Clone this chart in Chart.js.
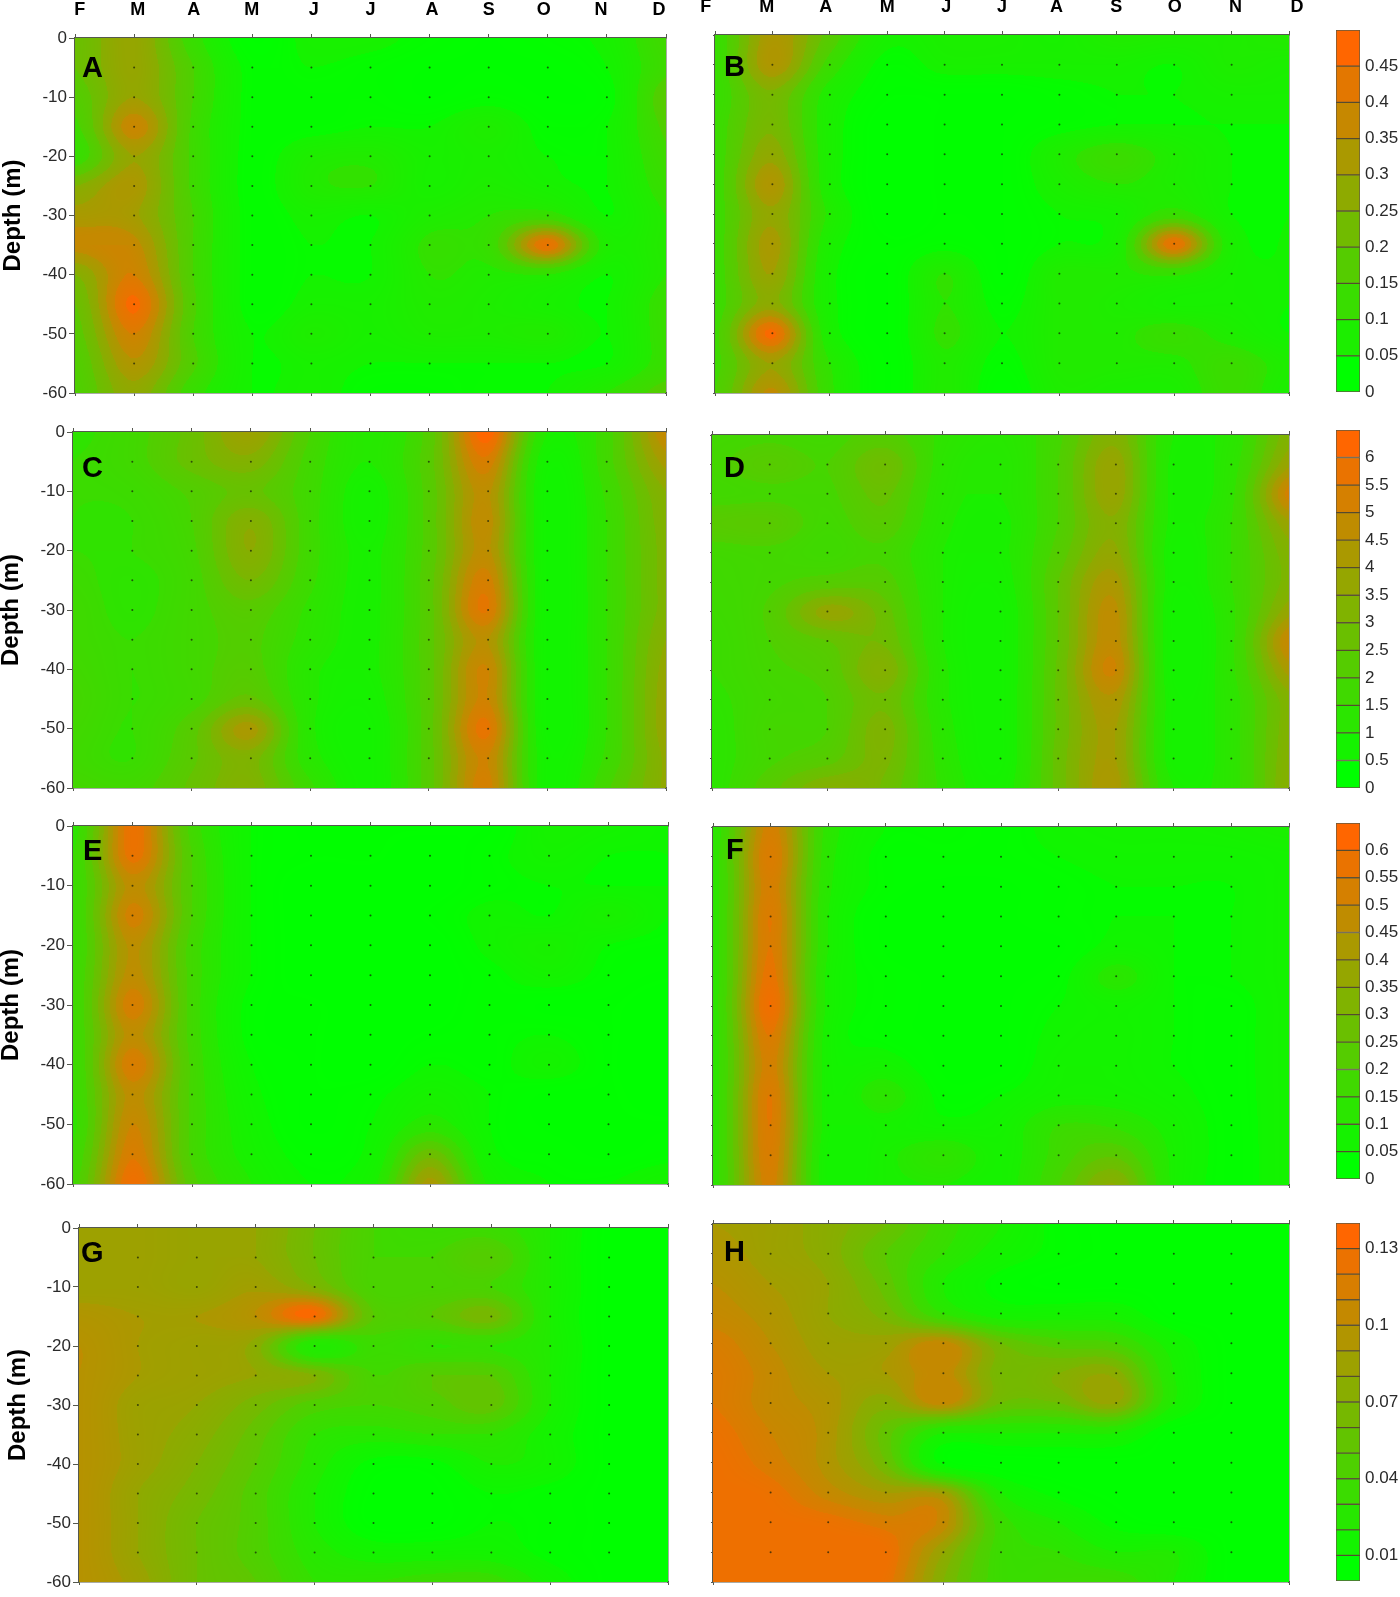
<!DOCTYPE html>
<html><head><meta charset="utf-8">
<script src="https://cdn.jsdelivr.net/npm/chart.js@4/dist/chart.umd.min.js"></script>
<style>html,body{margin:0;padding:0;background:#fff;overflow:hidden;width:1400px;height:1597px}canvas{position:absolute;display:block}</style>
</head><body>
<script>
// ---------- DATA ----------
const months = ['F','M','A','M','J','J','A','S','O','N','D'];
const depths = [0,-5,-10,-15,-20,-25,-30,-35,-40,-45,-50,-55,-60];
const levelsAB = [0,0.05,0.1,0.15,0.2,0.25,0.3,0.35,0.4,0.45,0.5];
const levelsCD = [0,0.5,1,1.5,2,2.5,3,3.5,4,4.5,5,5.5,6,6.5];
const levelsEF = [0,0.05,0.1,0.15,0.2,0.25,0.3,0.35,0.4,0.45,0.5,0.55,0.6,0.65];
const levelsGH = [0,0.01,0.02,0.03,0.04,0.05,0.06,0.07,0.08,0.09,0.1,0.11,0.12,0.13,0.14];
const ticksAB = [0,0.05,0.1,0.15,0.2,0.25,0.3,0.35,0.4,0.45];
const ticksCD = [0,0.5,1,1.5,2,2.5,3,3.5,4,4.5,5,5.5,6];
const ticksEF = [0,0.05,0.1,0.15,0.2,0.25,0.3,0.35,0.4,0.45,0.5,0.55,0.6];
const ticksGH = [0.01,0.04,0.07,0.1,0.13];

const valuesA = [
[.20,.30,.12,.03,.06,.06,.04,.03,.04,.06,.15],
[.20,.30,.15,.04,.05,.04,.03,.03,.03,.05,.14],
[.17,.30,.15,.04,.04,.04,.03,.04,.03,.04,.18],
[.14,.38,.14,.04,.04,.05,.05,.08,.04,.05,.16],
[.12,.30,.14,.04,.08,.09,.06,.07,.05,.05,.14],
[.25,.33,.14,.04,.09,.10,.06,.08,.06,.05,.12],
[.32,.31,.15,.04,.06,.05,.08,.10,.12,.05,.10],
[.37,.37,.15,.04,.05,.05,.11,.12,.44,.08,.10],
[.25,.40,.15,.04,.05,.05,.10,.09,.10,.05,.10],
[.20,.46,.16,.04,.06,.06,.09,.08,.06,.05,.12],
[.18,.40,.15,.05,.08,.06,.08,.08,.09,.05,.12],
[.16,.34,.16,.05,.06,.05,.05,.05,.05,.05,.12],
[.15,.28,.12,.05,.06,.04,.04,.05,.05,.10,.17]];
const valuesB = [
[.12,.33,.18,.06,.07,.07,.06,.09,.08,.08,.10],
[.12,.34,.13,.04,.06,.06,.06,.06,.05,.08,.07],
[.12,.24,.08,.03,.03,.03,.04,.05,.05,.06,.06],
[.13,.24,.07,.02,.03,.03,.04,.05,.05,.05,.05],
[.13,.28,.07,.02,.03,.03,.08,.13,.08,.05,.05],
[.13,.34,.07,.02,.03,.03,.07,.10,.08,.05,.05],
[.13,.29,.09,.02,.03,.03,.05,.06,.12,.05,.05],
[.13,.32,.07,.03,.04,.03,.05,.07,.44,.07,.05],
[.13,.30,.06,.03,.10,.03,.09,.09,.11,.06,.05],
[.13,.27,.06,.03,.10,.04,.09,.08,.06,.06,.05],
[.14,.46,.07,.03,.11,.05,.09,.09,.12,.08,.05],
[.14,.30,.10,.03,.09,.04,.09,.09,.09,.13,.08],
[.15,.36,.11,.03,.09,.03,.08,.07,.07,.13,.07]];
const valuesC = [
[1.4,1.8,2.7,4.0,2.0,1.0,2.2,6.3,1.0,1.8,5.0],
[1.5,1.8,2.7,3.3,1.8,1.0,2.3,5.3,0.7,1.8,4.2],
[1.5,1.6,2.1,2.6,1.7,0.8,2.2,4.6,0.6,1.6,3.5],
[1.5,1.5,2.0,3.4,1.7,0.8,2.2,4.7,0.6,1.5,3.3],
[1.5,1.5,1.9,3.5,1.7,0.9,2.2,4.6,0.6,1.5,3.2],
[1.6,1.4,1.8,3.0,1.6,0.9,2.3,5.2,0.6,1.5,3.2],
[1.7,1.4,1.8,2.3,1.4,0.9,2.3,5.5,0.6,1.5,3.2],
[1.7,1.5,1.8,2.1,1.3,0.9,2.3,4.5,0.6,1.5,3.5],
[1.8,1.5,1.8,2.2,1.1,0.9,2.3,5.0,0.6,1.5,3.7],
[1.9,1.5,1.8,2.6,1.1,0.8,2.3,5.0,0.6,1.5,3.8],
[1.8,1.5,2.3,4.2,1.1,0.7,2.3,5.6,0.6,1.5,3.8],
[1.7,1.5,2.4,3.2,1.2,0.7,2.3,5.0,0.7,1.6,3.6],
[1.9,1.8,2.6,3.3,1.6,0.7,2.3,5.2,0.7,1.9,3.6]];
const valuesD = [
[1.8,1.9,1.8,2.2,1.4,1.1,1.9,3.3,1.0,1.2,3.3],
[1.9,2.3,2.0,2.9,1.3,1.0,2.0,3.8,0.9,1.3,3.9],
[1.8,1.9,1.9,2.6,1.2,1.0,2.0,3.8,0.9,1.4,5.2],
[2.3,2.4,1.8,2.3,1.1,0.9,2.0,3.4,0.9,1.5,3.9],
[1.8,1.9,1.7,1.9,1.0,0.9,2.2,3.6,0.8,1.5,3.3],
[1.7,1.9,2.2,2.2,1.0,0.8,2.5,4.2,0.8,1.5,3.2],
[1.6,2.1,3.7,2.7,1.0,0.7,2.5,4.6,0.7,1.4,3.8],
[1.5,2.0,2.5,2.9,1.0,0.7,2.5,4.7,0.7,1.4,5.0],
[1.5,1.9,2.2,3.4,1.1,0.7,2.6,5.0,0.7,1.4,4.2],
[1.4,1.8,2.0,2.9,1.1,0.7,2.6,4.3,0.8,1.3,3.3],
[1.3,1.9,2.0,3.2,1.2,0.7,2.6,4.0,0.8,1.3,3.3],
[1.3,1.9,2.3,3.1,1.3,0.7,2.7,4.0,0.8,1.3,3.4],
[1.3,2.3,3.4,2.9,1.4,0.8,2.7,4.2,1.0,1.3,3.5]];
const valuesE = [
[.13,.58,.18,.05,.03,.03,.03,.03,.08,.07,.05],
[.15,.57,.20,.05,.03,.03,.02,.04,.07,.05,.05],
[.15,.47,.20,.05,.02,.02,.02,.04,.05,.05,.05],
[.15,.52,.20,.05,.02,.02,.03,.06,.05,.09,.05],
[.15,.46,.18,.05,.02,.02,.02,.06,.09,.05,.04],
[.16,.47,.18,.05,.02,.02,.02,.04,.07,.04,.03],
[.16,.53,.18,.04,.03,.02,.02,.04,.03,.03,.02],
[.16,.47,.18,.04,.03,.02,.03,.04,.05,.03,.02],
[.15,.54,.19,.05,.03,.02,.05,.04,.07,.03,.02],
[.15,.47,.19,.06,.03,.04,.08,.05,.03,.03,.02],
[.14,.50,.19,.07,.03,.05,.12,.05,.03,.03,.03],
[.16,.54,.19,.08,.04,.06,.28,.06,.04,.03,.04],
[.18,.60,.22,.10,.05,.08,.42,.09,.05,.05,.08]];
const valuesF = [
[.12,.52,.13,.05,.05,.04,.06,.07,.07,.08,.10],
[.13,.55,.12,.04,.04,.04,.05,.06,.06,.06,.07],
[.13,.53,.11,.04,.03,.03,.04,.05,.05,.05,.07],
[.13,.55,.10,.03,.03,.03,.04,.05,.05,.05,.07],
[.13,.55,.10,.03,.03,.03,.03,.06,.05,.05,.07],
[.13,.57,.09,.04,.03,.03,.04,.12,.05,.05,.07],
[.13,.60,.09,.04,.03,.03,.05,.07,.05,.04,.07],
[.13,.55,.08,.04,.03,.03,.06,.07,.05,.04,.07],
[.13,.52,.08,.07,.03,.03,.07,.07,.05,.04,.07],
[.13,.55,.08,.13,.04,.05,.08,.08,.06,.04,.07],
[.13,.55,.08,.08,.06,.07,.15,.14,.08,.04,.07],
[.13,.54,.07,.09,.14,.08,.17,.24,.09,.04,.07],
[.13,.52,.07,.09,.10,.08,.20,.35,.09,.04,.07]];
const valuesG = [
[.085,.085,.08,.08,.06,.04,.035,.035,.02,.005,.005],
[.085,.085,.08,.08,.06,.04,.04,.05,.02,.005,.005],
[.085,.085,.08,.088,.07,.04,.04,.04,.02,.005,.005],
[.095,.09,.09,.10,.13,.05,.05,.065,.02,.005,.005],
[.10,.09,.085,.075,.02,.035,.03,.03,.02,.005,.005],
[.10,.09,.085,.08,.07,.04,.05,.05,.02,.005,.005],
[.10,.085,.08,.065,.045,.04,.045,.055,.02,.005,.005],
[.10,.085,.075,.055,.03,.025,.03,.03,.015,.005,.005],
[.10,.085,.07,.05,.025,.008,.008,.02,.015,.005,.005],
[.10,.08,.065,.045,.02,.005,.005,.01,.008,.005,.005],
[.10,.08,.06,.045,.02,.005,.005,.01,.008,.005,.005],
[.10,.08,.06,.045,.025,.015,.015,.015,.008,.005,.005],
[.10,.085,.06,.05,.03,.03,.035,.035,.015,.005,.005]];
const valuesH = [
[.09,.085,.075,.06,.035,.02,.008,.005,.005,.005,.005],
[.095,.085,.075,.05,.03,.015,.008,.005,.005,.005,.005],
[.10,.09,.08,.055,.02,.008,.005,.005,.005,.005,.005],
[.105,.095,.08,.065,.03,.015,.015,.015,.005,.005,.005],
[.115,.10,.085,.085,.105,.06,.045,.04,.015,.005,.005],
[.12,.105,.09,.09,.105,.065,.07,.075,.02,.005,.005],
[.12,.105,.095,.075,.105,.06,.06,.08,.02,.005,.005],
[.125,.11,.095,.055,.02,.02,.02,.02,.005,.005,.005],
[.128,.115,.095,.06,.008,.005,.005,.005,.005,.005,.005],
[.128,.125,.105,.09,.085,.02,.008,.005,.005,.005,.005],
[.128,.128,.125,.115,.105,.035,.02,.008,.005,.005,.005],
[.128,.128,.128,.128,.08,.035,.03,.02,.02,.005,.005],
[.128,.128,.128,.125,.07,.035,.035,.035,.02,.005,.005]];

// ---------- LAYOUT ----------
const FONT = '"Liberation Sans", Arial, sans-serif';
const monthLabelAtA = [0.08,1.06,2.01,2.99,4.04,5.0,6.04,7.0,7.93,8.9,9.88];
const monthLabelAtB = [-0.16,0.9,1.93,3.0,4.03,5.0,5.95,6.99,8.01,9.07,10.14];
const panels = [
 {name:'A',values:valuesA,levels:levelsAB,l:75,r:666,t:38,b:393,titleX:13,labelAt:monthLabelAtA,lx:82,ly:68,step:1},
 {name:'B',values:valuesB,levels:levelsAB,l:715,r:1289,t:35,b:393,labelAt:monthLabelAtB,lx:724,ly:67,step:2},
 {name:'C',values:valuesC,levels:levelsCD,l:73,r:666,t:432,b:788,titleX:11,lx:82,ly:468,step:2},
 {name:'D',values:valuesD,levels:levelsCD,l:712,r:1289,t:435,b:788,lx:724,ly:468,step:2},
 {name:'E',values:valuesE,levels:levelsEF,l:73,r:668,t:826,b:1184,titleX:11,lx:83,ly:851,step:2},
 {name:'F',values:valuesF,levels:levelsEF,l:713,r:1289,t:827,b:1185,lx:726,ly:850,step:4},
 {name:'G',values:valuesG,levels:levelsGH,l:79,r:668,t:1228,b:1582,titleX:18,lx:81,ly:1253,step:2},
 {name:'H',values:valuesH,levels:levelsGH,l:713,r:1289,t:1224,b:1582,lx:724,ly:1252,step:4}
];
const bars = [
 {levels:levelsAB,ticks:ticksAB,t:30,b:392},
 {levels:levelsCD,ticks:ticksCD,t:430,b:788},
 {levels:levelsEF,ticks:ticksEF,t:823,b:1179},
 {levels:levelsGH,ticks:ticksGH,t:1223,b:1581}
];
const LOW=[0,255,0], HIGH=[255,102,0];
function ramp(t){t=Math.min(1,Math.max(0,t));return LOW.map((c,k)=>Math.round(c+(HIGH[k]-c)*t));}
const INK='#55584f';

function addCanvas(l,t,w,h){
  const c=document.createElement('canvas');c.width=w;c.height=h;
  c.style.left=l+'px';c.style.top=t+'px';c.style.width=w+'px';c.style.height=h+'px';
  document.body.appendChild(c);return c.getContext('2d');
}
function cr(p0,p1,p2,p3,t){
  return 0.5*((2*p1)+(-p0+p2)*t+(2*p0-5*p1+4*p2-p3)*t*t+(-p0+3*p1-3*p2+p3)*t*t*t);
}
function sample(g,cx,cy){
  const R=g.length,C=g[0].length;
  const c0=Math.min(Math.max(Math.floor(cx),0),C-2),r0=Math.min(Math.max(Math.floor(cy),0),R-2);
  const tx=cx-c0,ty=cy-r0,rows=[];
  for(let j=-1;j<=2;j++){
    const row=g[Math.min(Math.max(r0+j,0),R-1)];
    const at=i=>row[Math.min(Math.max(i,0),C-1)];
    rows.push(cr(at(c0-1),at(c0),at(c0+1),at(c0+2),tx));
  }
  const v=cr(rows[0],rows[1],rows[2],rows[3],ty);
  const a=g[r0][c0],b=g[r0][c0+1],c=g[r0+1][c0],d=g[r0+1][c0+1];
  return Math.min(Math.max(a,b,c,d),Math.max(Math.min(a,b,c,d),v));
}
function contourPlugin(p){
  const n=p.levels.length-1,max=p.levels[n];
  const rootGrid=p.values.map(r=>r.map(v=>Math.sqrt(v)));
  return {id:'contour',beforeDatasetsDraw(chart){
    const a=chart.chartArea,xs=chart.scales.x,ys=chart.scales.y,ctx=chart.ctx;
    const x0=Math.round(a.left),y0=Math.round(a.top),w=Math.round(a.right)-x0,h=Math.round(a.bottom)-y0;
    const img=ctx.createImageData(w,h),d=img.data;
    for(let py=0;py<h;py++){
      const row=-ys.getValueForPixel(y0+py+.5)/5;
      for(let px=0;px<w;px++){
        const col=xs.getValueForPixel(x0+px+.5);
        const s=Math.max(0,sample(rootGrid,col,row));
        const u=s*s/max*n;
        const b=Math.min(n-1,Math.max(0,Math.floor(u)));
        const t=0.5*b/(n-1)+0.5*(u-.5)/(n-1);
        const c=ramp(t),o=(py*w+px)*4;
        d[o]=c[0];d[o+1]=c[1];d[o+2]=c[2];d[o+3]=255;
      }
    }
    ctx.putImageData(img,x0,y0);
  },afterDraw(chart){
    const ctx=chart.ctx,box=chart.canvas.getBoundingClientRect();
    ctx.save();ctx.fillStyle='#000';ctx.font='bold 29px '+FONT;ctx.textBaseline='middle';ctx.textAlign='left';
    ctx.fillText(p.name,p.lx-box.left,p.ly-box.top+1);ctx.restore();
  }};
}
function noPad(s){s.paddingLeft=s.paddingRight=s.paddingTop=s.paddingBottom=0;}
function fixedW(w){return s=>{s.width=w;noPad(s);};}
function fixedH(h){return s=>{s.height=h;noPad(s);};}

panels.forEach(p=>{
  const hasTitle=p.titleX!==undefined;
  const L=hasTitle?Math.round(p.titleX-14):p.l-14;
  const T=p.labelAt?p.t-45:p.t-9;
  const rightPad=p.labelAt?24:6;
  const W=p.r-L+rightPad, H=p.b-T+6;
  const pts=[];
  for(let m=1;m<months.length-1;m++)for(let d=1;d<depths.length-1;d++)pts.push({x:m,y:depths[d]});
  const scales={
    x:{axis:'x',type:'linear',position:'top',min:0,max:months.length-1,weight:0,
       ticks:{display:false,stepSize:1},afterFit:fixedH(4),
       grid:{drawOnChartArea:false,tickLength:4,tickColor:INK},border:{color:INK,width:1.5}},
    xb:{axis:'x',type:'linear',position:'bottom',min:0,max:months.length-1,
       ticks:{display:false,stepSize:p.step},afterFit:fixedH(3),
       grid:{drawOnChartArea:false,tickLength:3,tickColor:INK},border:{color:INK,width:1.5}},
    y:{axis:'y',type:'linear',position:'left',min:-60,max:0,
       afterFit:fixedW(p.l-L),
       ticks:{display:hasTitle,stepSize:hasTitle?10:5,padding:2,color:'#2a2a2a',font:{family:FONT,size:17},callback:v=>String(v)},
       grid:{drawOnChartArea:false,tickLength:hasTitle?6:2,tickColor:INK},border:{color:INK,width:1.5},
       title:{display:hasTitle,text:'Depth (m)',color:'#000',padding:0,font:{family:FONT,size:24,weight:'bold'}}},
    yr:{axis:'y',type:'linear',position:'right',min:-60,max:0,
       afterFit:fixedW(0),ticks:{display:false},
       grid:{drawOnChartArea:false,drawTicks:false},border:{color:INK,width:1.5}}
  };
  if(p.labelAt){
    scales.xl={axis:'x',type:'linear',position:'top',min:0,max:months.length-1,weight:1,
      afterBuildTicks:s=>{s.ticks=p.labelAt.map(v=>({value:v}));},
      afterFit:fixedH(41),
      ticks:{autoSkip:false,maxRotation:0,padding:13,color:'#000',font:{family:FONT,size:18,weight:'bold'},
             callback:(v,i)=>months[i]},
      grid:{display:false,drawTicks:false},border:{display:false}};
  }
  new Chart(addCanvas(L,T,W,H),{
    type:'scatter',
    data:{datasets:[{data:pts,pointRadius:1,pointBorderWidth:0,backgroundColor:'rgba(20,30,10,0.7)',xAxisID:'x',yAxisID:'y'}]},
    options:{responsive:false,animation:false,devicePixelRatio:1,
      layout:{padding:{right:rightPad,bottom:3,top:p.labelAt?0:5}},
      plugins:{legend:{display:false},tooltip:{enabled:false},title:{display:false}},
      events:[],scales},
    plugins:[contourPlugin(p)]
  });
});

bars.forEach(b=>{
  const n=b.levels.length-1,datasets=[];
  for(let i=0;i<n;i++){
    const c=ramp(i/(n-1));
    datasets.push({data:[[b.levels[i],b.levels[i+1]]],backgroundColor:`rgb(${c.join(',')})`,
      borderColor:'rgba(70,60,30,0.85)',borderWidth:1,borderSkipped:false,barPercentage:1,categoryPercentage:1,xAxisID:'x',yAxisID:'y'});
  }
  new Chart(addCanvas(1336,b.t-10,64,b.b-b.t+20),{
    type:'bar',
    data:{labels:[''],datasets},
    options:{responsive:false,animation:false,devicePixelRatio:1,
      layout:{padding:{top:10,bottom:10}},
      plugins:{legend:{display:false},tooltip:{enabled:false}},events:[],
      scales:{
        x:{stacked:true,display:false},
        y:{position:'right',min:0,max:b.levels[n],
           afterBuildTicks:s=>{s.ticks=b.ticks.map(v=>({value:v}));},
           afterFit:fixedW(40),
           ticks:{padding:5,color:'#2a2a2a',font:{family:FONT,size:17},callback:v=>String(v),autoSkip:false},
           grid:{display:false,drawTicks:false},border:{display:false}}
      }}
  });
});
</script>
</body></html>
